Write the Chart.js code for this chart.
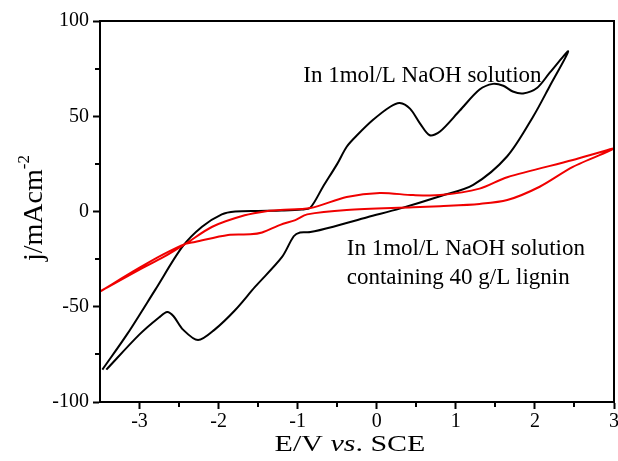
<!DOCTYPE html>
<html>
<head>
<meta charset="utf-8">
<script src="https://cdn.jsdelivr.net/npm/chart.js@4/dist/chart.umd.min.js"></script>
<style>
  html, body { margin: 0; padding: 0; background: #fff; }
</style>
</head>
<body>
<canvas id="cv" width="618" height="461"></canvas>
<script>
// black loop: 1 mol/L NaOH (anodic sweep, then the way back)
const naohE = [-3.47, -3.15, -2.80, -2.46, -2.21, -1.96, -1.79, -1.5, -1.2, -0.95, -0.84, -0.68, -0.50, -0.38, -0.25, -0.05, 0.17, 0.29, 0.42, 0.55, 0.67, 0.80, 1.05, 1.30, 1.47, 1.60, 1.72, 1.85, 2.03, 2.19, 2.42,
               2.19, 1.98, 1.65, 1.22, 0.80, 0.29, -0.12, -0.55, -0.84, -0.97, -1.05, -1.2, -1.54, -1.79, -2.05, -2.26, -2.45, -2.57, -2.65, -2.75, -3.0, -3.42];
const naohJ = [-83, -64, -41, -18.6, -8, -1.5, 0, 0.3, 0.5, 1, 2, 13, 25, 34, 40, 48, 55, 57, 54, 46, 40, 42, 53, 64, 67, 66, 63, 62, 65, 73, 84,
               66, 50, 29, 14, 8, 1.5, -3, -8, -10.8, -11, -13, -24, -39.6, -51.7, -62, -67.5, -62, -55, -52.8, -55.5, -64.5, -83];

// red loop: NaOH + 40 g/L lignin
const ligninE = [-3.5, -3.0, -2.7, -2.42, -2.30, -1.88, -1.6, -1.45, -1.22, -1.03, -0.88, -0.38, 0.46, 0.8, 1.3, 1.65, 2.06, 2.48, 3.0,
                 2.48, 1.65, 1.3, 0.80, 0.46, 0.04, -0.38, -0.84, -1.22, -1.38, -1.67, -2.08, -2.42, -2.7, -3.0, -3.5];
const ligninJ = [-42, -29.5, -22.5, -17, -16, -12.3, -12, -11, -7, -4.5, -1.5, 0.8, 2.2, 2.8, 4.0, 6, 13, 23.4, 33,
                 27, 18, 12, 8.6, 8.6, 9.7, 7.6, 1.8, 0.8, 0.3, -2, -8, -17, -24, -30.5, -42];

const xTicks = [-3, -2, -1, 0, 1, 2, 3];
const xMinor = [-2.5, -1.5, -0.5, 0.5, 1.5, 2.5];
const yTicks = [-100, -50, 0, 50, 100];
const yMinor = [-75, -25, 25, 75];

const labelNaoh = ['In 1mol/L NaOH solution'];
const labelLignin = ['In 1mol/L NaOH solution', 'containing 40 g/L lignin'];

const serif = '"Liberation Serif", "Times New Roman", serif';

function toPoints(xs, ys) {
  return xs.map((v, i) => ({ x: v, y: ys[i] }));
}

// draws text pieces with different styles in one run
function drawParts(ctx, parts, x, y, align, hscale) {
  hscale = hscale || 1;
  let total = 0;
  parts.forEach(p => { ctx.font = p.font; total += ctx.measureText(p.text).width; });
  ctx.save();
  ctx.translate(x, y);
  ctx.scale(hscale, 1);
  let cx = align === 'center' ? -total / 2 : 0;
  parts.forEach(p => {
    ctx.font = p.font;
    ctx.fillText(p.text, cx, p.dy || 0);
    cx += ctx.measureText(p.text).width;
  });
  ctx.restore();
}

const extras = {
  id: 'extras',
  afterDraw(chart) {
    const { ctx, chartArea: a, scales: { x, y } } = chart;
    ctx.save();
    ctx.strokeStyle = '#000';
    ctx.lineWidth = 2;
    ctx.strokeRect(a.left, a.top, a.right - a.left, a.bottom - a.top);

    // minor ticks
    ctx.beginPath();
    xMinor.forEach(v => {
      const px = Math.round(x.getPixelForValue(v));
      ctx.moveTo(px, a.bottom);
      ctx.lineTo(px, a.bottom + 5);
    });
    yMinor.forEach(v => {
      const py = Math.round(y.getPixelForValue(v));
      ctx.moveTo(a.left, py);
      ctx.lineTo(a.left - 5, py);
    });
    ctx.stroke();

    ctx.fillStyle = '#000';
    ctx.textBaseline = 'alphabetic';
    ctx.textAlign = 'left';

    // curve labels
    ctx.font = '23px ' + serif;
    ctx.fillText(labelNaoh[0], x.getPixelForValue(-0.93), y.getPixelForValue(68));
    ctx.fillText(labelLignin[0], x.getPixelForValue(-0.38), y.getPixelForValue(-22.8));
    ctx.fillText(labelLignin[1], x.getPixelForValue(-0.38), y.getPixelForValue(-38));

    // x title
    drawParts(ctx, [
      { text: 'E/V ', font: '24px ' + serif },
      { text: 'vs', font: 'italic 24px ' + serif },
      { text: '. SCE', font: '24px ' + serif }
    ], 350, 451, 'center', 1.25);

    // y title
    ctx.save();
    ctx.translate(42, 208);
    ctx.rotate(-Math.PI / 2);
    drawParts(ctx, [
      { text: 'j/mAcm', font: '28px ' + serif },
      { text: '-2', font: '17px ' + serif, dy: -13 }
    ], 0, 0, 'center', 1);
    ctx.restore();

    ctx.restore();
  }
};

new Chart(document.getElementById('cv').getContext('2d'), {
  type: 'scatter',
  data: {
    datasets: [
      {
        label: 'In 1mol/L NaOH solution containing 40 g/L lignin',
        data: toPoints(ligninE, ligninJ),
        showLine: true,
        borderColor: '#f00000',
        borderWidth: 2,
        pointRadius: 0,
        tension: 0.3
      },
      {
        label: 'In 1mol/L NaOH solution',
        data: toPoints(naohE, naohJ),
        showLine: true,
        borderColor: '#000000',
        borderWidth: 2,
        pointRadius: 0,
        tension: 0.3
      }
    ]
  },
  options: {
    responsive: false,
    animation: false,
    layout: { padding: { top: 21, right: 4, left: 0, bottom: 0 } },
    plugins: {
      legend: { display: false },
      tooltip: { enabled: false }
    },
    scales: {
      x: {
        type: 'linear',
        min: -3.5,
        max: 3,
        afterBuildTicks: s => { s.ticks = xTicks.map(v => ({ value: v })); },
        afterFit: s => { s.height = 59; s.paddingLeft = 0; s.paddingRight = 0; },
        grid: { display: true, drawOnChartArea: false, tickLength: 7, tickWidth: 2, tickColor: '#000' },
        border: { display: true, color: '#000', width: 2 },
        ticks: { color: '#000', padding: 1, maxRotation: 0, font: { family: serif, size: 20 } }
      },
      y: {
        type: 'linear',
        min: -100,
        max: 100,
        afterBuildTicks: s => { s.ticks = yTicks.map(v => ({ value: v })); },
        afterFit: s => { s.width = 100; },
        grid: { display: true, drawOnChartArea: false, tickLength: 7, tickWidth: 2, tickColor: '#000' },
        border: { display: true, color: '#000', width: 2 },
        ticks: { color: '#000', padding: 4, font: { family: serif, size: 20 } }
      }
    }
  },
  plugins: [extras]
});
</script>
</body>
</html>
